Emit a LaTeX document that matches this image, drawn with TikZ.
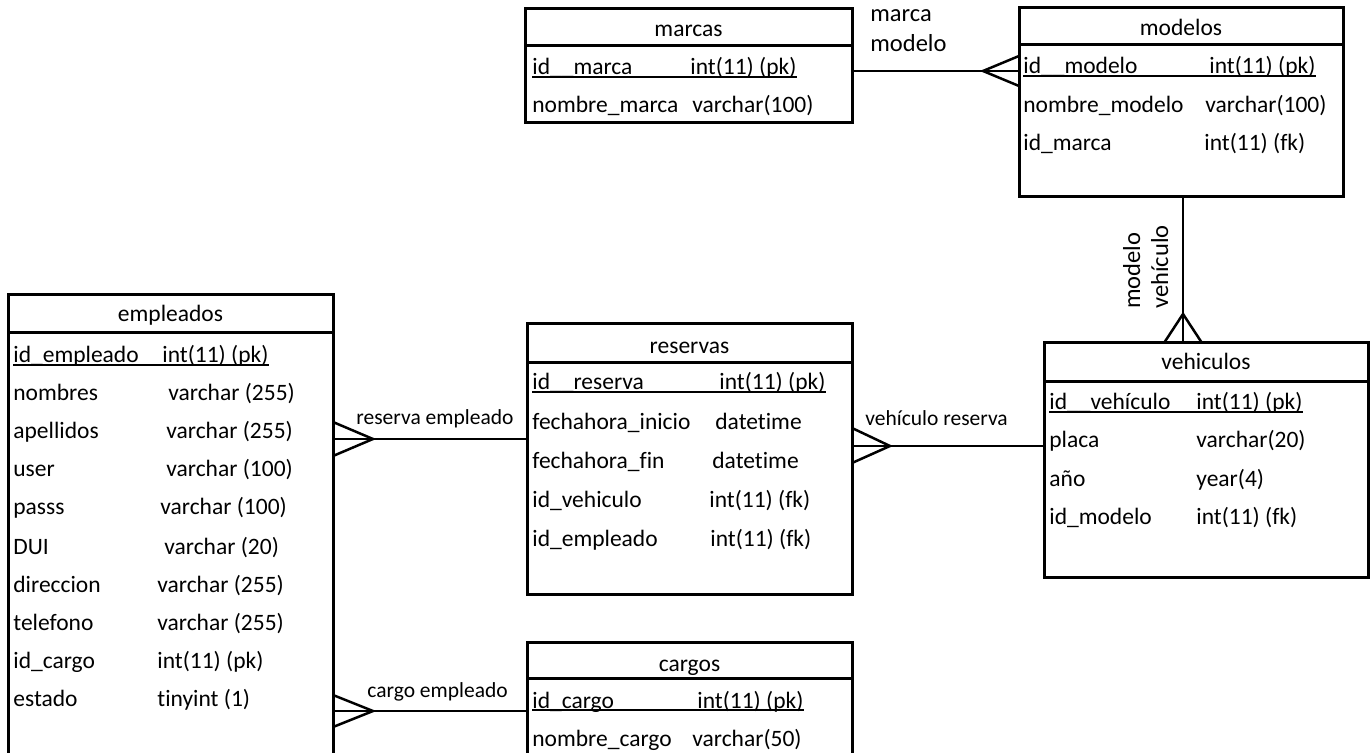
\documentclass[tikz,border=0pt]{standalone}
\usepackage{fontspec}
\setmainfont{Carlito}[Ligatures={NoCommon}]
\usetikzlibrary{fit}
\tikzset{
  x=0.5pt, y=-0.5pt,
  tbl/.style={draw, line width=1.5pt, inner sep=0pt, outer sep=0pt},
  hline/.style={line width=1.5pt},
  conn/.style={line width=1.25pt, line join=miter},
  ul/.style={line width=0.8pt},
  txt/.style={inner sep=0pt, anchor=base west, font=\fontsize{11.75pt}{14pt}\selectfont},
  ttl/.style={inner sep=0pt, anchor=base, font=\fontsize{11.75pt}{14pt}\selectfont},
  lbl/.style={inner sep=0pt, anchor=base west, font=\fontsize{10.75pt}{13pt}\selectfont},
  biglbl/.style={inner sep=0pt, anchor=base west, font=\fontsize{12.25pt}{15pt}\selectfont},
}
\newcommand{\uly}{-0.95pt}
\begin{document}
\begin{tikzpicture}
\useasboundingbox (0,0) rectangle (1371,753);
\clip (0,0) rectangle (1371,753);

% ---------- boxes ----------
\node[tbl, fit={(525,9) (852,123)}] (marcas) {};
\node[tbl, fit={(1019,8) (1343,197)}] (modelos) {};
\node[tbl, fit={(8,295) (333,780)}] (empleados) {};
\node[tbl, fit={(527,324) (852,594)}] (reservas) {};
\node[tbl, fit={(1044,343) (1368,577)}] (vehiculos) {};
\node[tbl, fit={(527,642) (852,780)}] (cargos) {};

% header lines
\draw[hline] (marcas.west |- 0,46) -- (marcas.east |- 0,46);
\draw[hline] (modelos.west |- 0,45) -- (modelos.east |- 0,45);
\draw[hline] (empleados.west |- 0,333) -- (empleados.east |- 0,333);
\draw[hline] (reservas.west |- 0,363) -- (reservas.east |- 0,363);
\draw[hline] (vehiculos.west |- 0,382) -- (vehiculos.east |- 0,382);
\draw[hline] (cargos.west |- 0,678) -- (cargos.east |- 0,678);

% ---------- marcas ----------
\node[ttl] (marcasT) at (688.5,37) {marcas};
\node[txt] (ma1) at (532,75) {id\_\_marca};
\node[txt] (mb1) at (690,75) {int(11) (pk)};
\node[txt] (ma2) at (532,113) {nombre\_marca};
\node[txt] (mb2) at (692,113) {varchar(100)};
\draw[ul] ([yshift=\uly]ma1.base west) -- ([yshift=\uly]mb1.base east);

% ---------- modelos ----------
\node[ttl] (modelosT) at (1181,36) {modelos};
\node[txt] (oa1) at (1023,74) {id\_\_modelo};
\node[txt] (ob1) at (1209,74) {int(11) (pk)};
\node[txt] (oa2) at (1023,113) {nombre\_modelo};
\node[txt] (ob2) at (1205,113) {varchar(100)};
\node[txt] (oa3) at (1023,151) {id\_marca};
\node[txt] (ob3) at (1204,151) {int(11) (fk)};
\draw[ul] ([yshift=\uly]oa1.base west) -- ([yshift=\uly]ob1.base east);

% ---------- empleados ----------
\node[ttl] (empleadosT) at (170.5,322) {empleados};
\node[txt] (ea1) at (13,363) {id\_empleado};
\node[txt] (eb1) at (162,363) {int(11) (pk)};
\node[txt] (ea2) at (13,401) {nombres};
\node[txt] (eb2) at (168,401) {varchar (255)};
\node[txt] (ea3) at (13,439) {apellidos};
\node[txt] (eb3) at (166,439) {varchar (255)};
\node[txt] (ea4) at (13,477) {user};
\node[txt] (eb4) at (166,477) {varchar (100)};
\node[txt] (ea5) at (13,515) {passs};
\node[txt] (eb5) at (160,515) {varchar (100)};
\node[txt] (ea6) at (13,554) {DUI};
\node[txt] (eb6) at (164,554) {varchar (20)};
\node[txt] (ea7) at (13,592) {direccion};
\node[txt] (eb7) at (157,592) {varchar (255)};
\node[txt] (ea8) at (13,630) {telefono};
\node[txt] (eb8) at (157,630) {varchar (255)};
\node[txt] (ea9) at (13,668) {id\_cargo};
\node[txt] (eb9) at (157,668) {int(11) (pk)};
\node[txt] (ea10) at (13,706) {estado};
\node[txt] (eb10) at (157,706) {tinyint (1)};
\draw[ul] ([yshift=\uly]ea1.base west) -- ([yshift=\uly]eb1.base east);

% ---------- reservas ----------
\node[ttl] (reservasT) at (689.5,354) {reservas};
\node[txt] (ra1) at (532,390) {id\_\_reserva};
\node[txt] (rb1) at (719,390) {int(11) (pk)};
\node[txt] (ra2) at (532,430) {fechahora\_inicio};
\node[txt] (rb2) at (715,430) {datetime};
\node[txt] (ra3) at (532,469) {fechahora\_fin};
\node[txt] (rb3) at (712,469) {datetime};
\node[txt] (ra4) at (532,508) {id\_vehiculo};
\node[txt] (rb4) at (709,508) {int(11) (fk)};
\node[txt] (ra5) at (532,546) {id\_empleado};
\node[txt] (rb5) at (710,546) {int(11) (fk)};
\draw[ul] ([yshift=\uly]ra1.base west) -- ([yshift=\uly]rb1.base east);

% ---------- vehiculos ----------
\node[ttl] (vehiculosT) at (1206,370) {vehiculos};
\node[txt] (va1) at (1049,410) {id\_\_vehículo};
\node[txt] (vb1) at (1196,410) {int(11) (pk)};
\node[txt] (va2) at (1049,448) {placa};
\node[txt] (vb2) at (1196,448) {varchar(20)};
\node[txt] (va3) at (1049,487) {año};
\node[txt] (vb3) at (1196,487) {year(4)};
\node[txt] (va4) at (1049,524) {id\_modelo};
\node[txt] (vb4) at (1196,524) {int(11) (fk)};
\draw[ul] ([yshift=\uly]va1.base west) -- ([yshift=\uly]vb1.base east);

% ---------- cargos ----------
\node[ttl] (cargosT) at (689.5,671) {cargos};
\node[txt] (ca1) at (532,708) {id\_cargo};
\node[txt] (cb1) at (697,708) {int(11) (pk)};
\node[txt] (ca2) at (532,746) {nombre\_cargo};
\node[txt] (cb2) at (692,746) {varchar(50)};
\draw[ul] ([yshift=\uly]ca1.base west) -- ([yshift=\uly]cb1.base east);

% ---------- connectors ----------
% marcas - modelos
\coordinate (cf1) at (983,71);
\draw[conn] (marcas.east |- cf1) -- (modelos.west |- cf1);
\draw[conn] (modelos.west |- 0,56) -- (cf1) -- (modelos.west |- 0,86);
\node[biglbl] (lm1) at (870,22) {marca};
\node[biglbl] (lm2) at (870,52) {modelo};

% modelos - vehiculos
\coordinate (cf2) at (1183,314);
\draw[conn] (modelos.south -| cf2) -- (vehiculos.north -| cf2);
\draw[conn] (vehiculos.north -| 1164,0) -- (cf2) -- (vehiculos.north -| 1202,0);
\node[biglbl, rotate=90] (lv1) at (1140,309) {modelo};
\node[biglbl, rotate=90] (lv2) at (1168,309) {vehículo};

% reservas - vehiculos
\coordinate (cf3) at (890,446);
\draw[conn] (reservas.east |- cf3) -- (vehiculos.west |- cf3);
\draw[conn] (reservas.east |- 0,428) -- (cf3) -- (reservas.east |- 0,463);
\node[lbl] (lvr) at (865,426) {vehículo reserva};

% empleados - reservas
\coordinate (cf4) at (373,439);
\draw[conn] (empleados.east |- cf4) -- (reservas.west |- cf4);
\draw[conn] (empleados.east |- 0,422) -- (cf4) -- (empleados.east |- 0,456);
\node[lbl] (lre) at (356,425) {reserva empleado};

% empleados - cargos
\coordinate (cf5) at (373,711);
\draw[conn] (empleados.east |- cf5) -- (cargos.west |- cf5);
\draw[conn] (empleados.east |- 0,695) -- (cf5) -- (empleados.east |- 0,727);
\node[lbl] (lce) at (367,697) {cargo empleado};
\end{tikzpicture}
\end{document}
